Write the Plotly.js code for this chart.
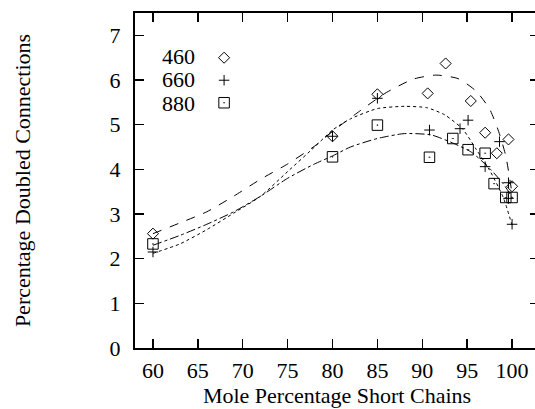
<!DOCTYPE html>
<html>
<head>
<meta charset="utf-8">
<script src="https://cdn.plot.ly/plotly-3.0.1.min.js"></script>
<style>
  html, body { margin: 0; padding: 0; overflow: hidden; background: #fff; }
  #chart { width: 545px; height: 409px; }
</style>
</head>
<body>
<div id="chart"></div>
<script>
// ---- Data ----
const seriesNames = ['460', '660', '880'];

// Measured points
const x460 = [60, 80, 85, 90.6, 92.6, 95.4, 97.0, 98.3, 99.6, 100.0];
const y460 = [2.56, 4.74, 5.68, 5.70, 6.37, 5.53, 4.82, 4.36, 4.67, 3.62];

const x660 = [60, 80, 85, 90.8, 94.2, 95.1, 97.0, 98.6, 99.6, 99.6, 100.0];
const y660 = [2.15, 4.74, 5.59, 4.88, 4.91, 5.10, 4.06, 4.62, 3.70, 3.35, 2.77];

const x880 = [60, 80, 85, 90.8, 93.4, 95.1, 97.0, 98.0, 99.3, 100.0];
const y880 = [2.33, 4.28, 4.99, 4.27, 4.69, 4.44, 4.36, 3.68, 3.37, 3.37];

// Fitted curves
const fitX460 = [60, 63, 66, 69, 72, 75, 78, 80, 83, 86, 89, 91.5, 94, 96, 97.5, 98.5, 99.3, 100];
const fitY460 = [2.56, 2.80, 3.05, 3.40, 3.78, 4.12, 4.52, 4.85, 5.30, 5.72, 6.02, 6.11, 6.03, 5.75, 5.35, 4.85, 4.30, 3.45];

const fitX660 = [60, 63, 66, 69, 72, 75, 78, 80, 82, 85, 88, 90.5, 92.5, 94.5, 96, 97.5, 99, 100];
const fitY660 = [2.12, 2.33, 2.65, 3.02, 3.40, 3.95, 4.50, 4.88, 5.13, 5.36, 5.41, 5.38, 5.22, 4.90, 4.45, 3.98, 3.38, 2.75];

const fitX880 = [60, 63, 66, 69, 72, 75, 78, 80, 82, 85, 88, 91, 93.5, 95.5, 97.5, 99, 100];
const fitY880 = [2.30, 2.52, 2.77, 3.05, 3.40, 3.80, 4.12, 4.30, 4.50, 4.69, 4.80, 4.77, 4.58, 4.38, 4.02, 3.68, 3.38];

const xTicks = [60, 65, 70, 75, 80, 85, 90, 95, 100];
const yTicks = [0, 1, 2, 3, 4, 5, 6, 7];

const xTitle = 'Mole Percentage Short Chains';
const yTitle = 'Percentage Doubled Connections';

// ---- Styling ----
const FONT = 'Liberation Serif, Times New Roman, serif';
const markers = [
  {symbol: 'diamond-open', size: 8.5, color: '#000', line: {width: 1, color: '#000'}},
  {symbol: 'cross-thin-open', size: 7.5, color: '#000', line: {width: 1, color: '#000'}},
  {symbol: 'square-open-dot', size: 10.5, color: '#000', line: {width: 1, color: '#000'}}
];
const dashes = ['dash', 'dot', 'dashdot'];

const pts = [[x460, y460], [x660, y660], [x880, y880]];
const fits = [[fitX460, fitY460], [fitX660, fitY660], [fitX880, fitY880]];

const traces = [];
fits.forEach((f, i) => {
  traces.push({
    x: f[0], y: f[1], type: 'scatter', mode: 'lines',
    line: {color: '#000', width: 1, dash: dashes[i], shape: 'spline', smoothing: 0.6},
    showlegend: false, hoverinfo: 'skip', name: seriesNames[i] + ' fit'
  });
});
pts.forEach((p, i) => {
  traces.push({
    x: p[0], y: p[1], type: 'scatter', mode: 'markers',
    marker: markers[i], name: seriesNames[i], showlegend: false
  });
});
// legend symbol entries (labels drawn to their left as annotations)
seriesNames.forEach((n, i) => {
  traces.push({
    x: [null], y: [null], type: 'scatter', mode: 'markers',
    marker: markers[i], name: '', showlegend: true, hoverinfo: 'skip'
  });
});

const legendRowsY = [0.8687, 0.8, 0.7313];
const annotations = seriesNames.map((n, i) => ({
  text: n, xref: 'paper', yref: 'paper', x: 0.1535, y: legendRowsY[i],
  xanchor: 'right', yanchor: 'middle', showarrow: false,
  font: {family: FONT, size: 22, color: '#000'}
}));

const axisCommon = {
  showline: true, linecolor: '#000', linewidth: 2, mirror: 'allticks',
  ticks: 'inside', ticklen: 9, tickwidth: 1.5, tickcolor: '#000',
  showgrid: false, zeroline: false,
  tickfont: {family: FONT, size: 22, color: '#000'}
};

const layout = {
  width: 545, height: 409,
  margin: {l: 135, r: 6, t: 13, b: 61, pad: 0},
  paper_bgcolor: '#fff', plot_bgcolor: '#fff',
  font: {family: FONT, size: 22, color: '#000'},
  showlegend: true,
  legend: {
    x: 0.171, y: 0.915, xanchor: 'left', yanchor: 'top',
    bgcolor: 'rgba(0,0,0,0)', borderwidth: 0,
    font: {family: FONT, size: 15, color: '#000'},
    itemwidth: 30, tracegroupgap: 0
  },
  xaxis: Object.assign({}, axisCommon, {
    range: [58, 103], tickmode: 'array', tickvals: xTicks,
    ticktext: xTicks.map(String), ticklabelstandoff: 2,
    title: {text: xTitle, font: {family: FONT, size: 22, color: '#000'}, standoff: 1}
  }),
  yaxis: Object.assign({}, axisCommon, {
    range: [0, 7.5], tickmode: 'array', tickvals: yTicks,
    ticktext: yTicks.map(String), ticklabelstandoff: 8,
    title: {text: yTitle, font: {family: FONT, size: 22, color: '#000'}, standoff: 73}
  }),
  annotations: annotations
};

Plotly.newPlot('chart', traces, layout, {staticPlot: true, displayModeBar: false});
</script>
</body>
</html>
